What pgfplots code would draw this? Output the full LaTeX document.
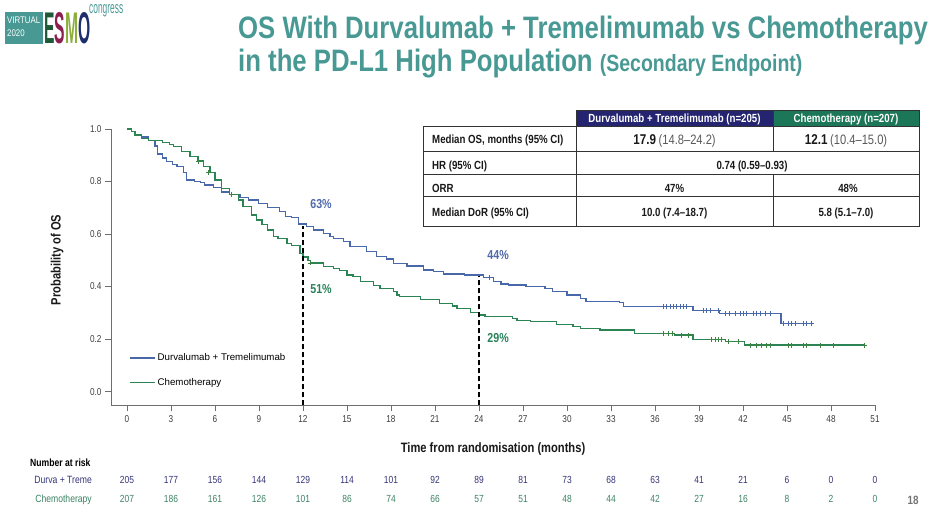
\documentclass[border=0pt]{standalone}
\usepackage{fontspec}
\setmainfont{Liberation Sans}
\newfontfamily\nf[FakeStretch=0.82]{Liberation Sans}
\newfontfamily\tf[FakeStretch=0.83]{Liberation Sans}
\usepackage{graphicx}
\usepackage{pgfplots}
\pgfplotsset{compat=1.18}
\definecolor{titleteal}{RGB}{72,152,148}
\definecolor{blueC}{RGB}{72,104,170}
\definecolor{greenC}{RGB}{42,132,84}
\definecolor{annBlue}{RGB}{80,105,170}
\definecolor{annGreen}{RGB}{40,130,90}
\definecolor{riskNavy}{RGB}{52,52,120}
\definecolor{riskGreen}{RGB}{60,130,100}
\definecolor{hdrNavy}{RGB}{36,36,112}
\definecolor{hdrGreen}{RGB}{28,118,88}
\definecolor{axisgray}{RGB}{110,110,110}
\definecolor{ticktext}{RGB}{60,60,60}
\definecolor{esmoE}{RGB}{30,90,55}
\definecolor{esmoS}{RGB}{140,30,80}
\definecolor{esmoM}{RGB}{140,175,60}
\definecolor{esmoO}{RGB}{30,45,110}
\begin{document}
\begin{tikzpicture}[x=1pt,y=1pt]
\path (0,0) rectangle (936,518);
% ---- logo
\fill[titleteal] (5,506) rectangle (43,474);
\node[anchor=base west, inner sep=0, text=white, font=\nf\fontsize{9.6}{10}\selectfont] at (7,494) {VIRTUAL};
\node[anchor=base west, inner sep=0, text=white, font=\nf\fontsize{9.6}{10}\selectfont] at (7,481) {2020};
\node[anchor=base west, inner sep=0] at (44,474) {\resizebox{46pt}{31pt}{\nf\bfseries\color{esmoE}E\color{esmoS}S\color{esmoM}M\color{esmoO}O}};
\node[anchor=base west, inner sep=0] at (89,504) {\resizebox{34pt}{9pt}{\nf\color{titleteal}congress}};
% ---- title
\node[anchor=base west, inner sep=0, text=titleteal, font=\tf\bfseries\fontsize{31}{31}\selectfont] at (238,479.5) {OS With Durvalumab + Tremelimumab vs Chemotherapy};
\node[anchor=base west, inner sep=0, text=titleteal, font=\tf\bfseries\fontsize{31}{31}\selectfont] at (238,446) {in the PD-L1 High Population {\fontsize{23.5}{24}\selectfont (Secondary Endpoint)}};
% ---- table
\fill[hdrNavy] (576,408) rectangle (773,391.3);
\fill[hdrGreen] (773,408) rectangle (919,391.3);
\draw[line width=0.6pt, black!80] (576,408) rectangle (919,391.3);
\draw[line width=0.6pt, black!80] (423,391.3) rectangle (919,291.3);
\draw[line width=0.6pt, black!80] (423,366.3) -- (919,366.3);
\draw[line width=0.6pt, black!80] (423,344) -- (919,344);
\draw[line width=0.6pt, black!80] (423,321.3) -- (919,321.3);
\draw[line width=0.6pt, black!80] (576,391.3) -- (576,291.3);
\draw[line width=0.6pt, black!80] (773,408) -- (773,366.3);
\draw[line width=0.6pt, black!80] (773,344) -- (773,291.3);
\begin{scope}[every node/.style={inner sep=0, font=\nf\bfseries\fontsize{11.8}{12}\selectfont, text=black!90}]
\node[text=white, anchor=base] at (674.5,395.5) {Durvalumab + Tremelimumab (n=205)};
\node[text=white, anchor=base] at (846,395.5) {Chemotherapy (n=207)};
\node[anchor=base west] at (432,374) {Median OS, months (95\% CI)};
\node[anchor=base west] at (432,348.5) {HR (95\% CI)};
\node[anchor=base west] at (432,325.5) {ORR};
\node[anchor=base west] at (432,301.5) {Median DoR (95\% CI)};
\node[anchor=base] at (674.5,373.5) {{\fontsize{14.2}{14}\selectfont 17.9} {\mdseries\fontsize{13.6}{14}\selectfont\color{black!65}(14.8–24.2)}};
\node[anchor=base] at (846,373.5) {{\fontsize{14.2}{14}\selectfont 12.1} {\mdseries\fontsize{13.6}{14}\selectfont\color{black!65}(10.4–15.0)}};
\node[anchor=base] at (752,348.5) {0.74 (0.59–0.93)};
\node[anchor=base] at (674.5,325.5) {47\%};
\node[anchor=base] at (848,325.5) {48\%};
\node[anchor=base] at (674.5,301.5) {10.0 (7.4–18.7)};
\node[anchor=base] at (846,301.5) {5.8 (5.1–7.0)};
\end{scope}
% ---- KM plot
\begin{axis}[
  at={(111pt,112.5pt)}, anchor=south west, scale only axis,
  width=764pt, height=276.5pt,
  xmin=-1.09, xmax=51, ymin=-0.053, ymax=1,
  axis x line*=bottom, axis y line*=left,
  axis line style={draw=axisgray, line width=0.8pt},
  tick align=outside, major tick length=6pt,
  tick style={axisgray, line width=0.8pt},
  xtick={0,3,6,9,12,15,18,21,24,27,30,33,36,39,42,45,48,51},
  ytick={0,0.2,0.4,0.6,0.8,1},
  /pgf/number format/assume math mode=true,
  ticklabel style={font=\nf\fontsize{10}{10}\selectfont, text=ticktext},
  yticklabel style={/pgf/number format/.cd, fixed, fixed zerofill, precision=1},
  xticklabel style={/pgf/number format/.cd, fixed, precision=0, /tikz/.cd, text height=7.2pt, text depth=0pt},
  xlabel={Time from randomisation (months)},
  ylabel={Probability of OS},
  label style={font=\nf\bfseries\fontsize{13.6}{14}\selectfont, text=black!90},
  xlabel style={at={(axis description cs:0.5,-0.156)}, anchor=center},
  ylabel style={at={(axis description cs:-0.0707,0.526)}, anchor=center},
  clip=false,
  legend style={at={(axis cs:0.15,0.152)}, anchor=north west, draw=none, fill=none,
    font=\fontsize{9.7}{10}\selectfont, row sep=12pt, inner sep=0pt,
    /tikz/every even column/.append style={column sep=8pt}},
  legend cell align=left,
  legend image code/.code={\draw[#1, line width=1.3pt] (0pt,0pt) -- (25pt,0pt);},
]
\addplot[blueC, line width=1.3pt, const plot] coordinates {
(0,1.0)(0.3,0.99)(0.6,0.98)(1.0,0.97)(1.45,0.955)(1.9,0.935)(2.1,0.905)(2.4,0.89)(2.7,0.876)(3.1,0.865)(3.4,0.856)(3.85,0.835)(4.05,0.806)(4.6,0.80)(5.0,0.795)(5.3,0.787)(5.9,0.776)(6.45,0.76)(7.0,0.75)(7.7,0.738)(8.3,0.73)(8.95,0.717)(9.6,0.70)(10.4,0.685)(10.8,0.668)(11.2,0.662)(11.7,0.638)(12.25,0.628)(12.7,0.615)(13.4,0.603)(13.85,0.59)(14.1,0.583)(14.75,0.571)(15.2,0.552)(16.35,0.533)(17.0,0.515)(17.7,0.505)(18.15,0.488)(19.1,0.478)(20.2,0.463)(20.9,0.456)(21.6,0.448)(23.0,0.444)(24.3,0.435)(25.0,0.42)(25.5,0.41)(26.0,0.406)(27.2,0.40)(28.5,0.393)(29.0,0.38)(30.0,0.368)(30.9,0.355)(31.3,0.342)(33.6,0.338)(33.85,0.324)(38.6,0.308)(40.4,0.298)(44.6,0.26)(46.7,0.26)};
\addlegendentry{Durvalumab + Tremelimumab}
\addplot[greenC, line width=1.3pt, const plot] coordinates {
(0,1.0)(0.3,0.99)(0.55,0.977)(1.0,0.965)(1.45,0.955)(2.4,0.948)(2.9,0.94)(3.15,0.933)(3.7,0.914)(4.3,0.895)(4.85,0.878)(5.2,0.856)(5.65,0.834)(6.0,0.806)(6.45,0.774)(7.0,0.75)(7.6,0.73)(7.9,0.705)(8.5,0.672)(8.85,0.653)(9.2,0.635)(9.6,0.615)(10.0,0.59)(10.3,0.583)(10.9,0.565)(11.2,0.555)(11.8,0.526)(12.0,0.513)(12.35,0.50)(12.5,0.49)(13.4,0.475)(14.1,0.469)(14.5,0.46)(15.0,0.444)(15.4,0.437)(15.9,0.418)(16.8,0.405)(17.25,0.393)(18.15,0.381)(18.4,0.368)(18.6,0.362)(20.0,0.35)(21.3,0.336)(22.2,0.326)(22.5,0.317)(23.4,0.30)(24.05,0.292)(24.4,0.285)(26.3,0.279)(26.6,0.272)(27.5,0.266)(29.3,0.255)(30.4,0.248)(30.9,0.24)(32.25,0.234)(34.6,0.222)(37.35,0.215)(38.6,0.199)(40.8,0.19)(42.1,0.177)(50.3,0.177)};
\addlegendentry{Chemotherapy}
\addplot[blueC, only marks, mark=+, mark size=2.5pt, line width=0.8pt, forget plot] coordinates {
(24.7,0.435)(36.57,0.324)(36.8,0.324)(37.02,0.324)(37.25,0.324)(37.48,0.324)(37.7,0.324)(37.93,0.324)(38.16,0.324)(39.3,0.308)(39.52,0.308)(39.75,0.308)(40.3,0.308)(40.77,0.298)(41.1,0.298)(41.45,0.298)(41.8,0.298)(42.0,0.298)(42.25,0.298)(42.7,0.298)(42.93,0.298)(43.16,0.298)(43.5,0.298)(43.84,0.298)(44.75,0.26)(45.1,0.26)(45.3,0.26)(45.55,0.26)(46.1,0.26)(46.35,0.26)(46.68,0.26)};
\addplot[greenC!80!olive, only marks, mark=+, mark size=2.5pt, line width=0.8pt, forget plot] coordinates {
(4.85,0.878)(5.55,0.834)(7.1,0.75)(12.5,0.49)(36.55,0.222)(36.9,0.222)(37.2,0.222)(37.8,0.215)(38.27,0.215)(39.87,0.199)(40.1,0.199)(40.32,0.199)(40.55,0.199)(41.0,0.19)(41.7,0.19)(42.48,0.177)(42.93,0.177)(43.27,0.177)(43.6,0.177)(43.84,0.177)(45.1,0.177)(45.3,0.177)(46.1,0.177)(46.35,0.177)(47.27,0.177)(48.16,0.177)(50.3,0.177)};
\addplot[black, dash pattern=on 5pt off 3pt, line width=1.2pt, forget plot] coordinates {(12,-0.053)(12,0.63)};
\addplot[black, dash pattern=on 5pt off 3pt, line width=1.2pt, forget plot] coordinates {(24,-0.053)(24,0.44)};
\node[text=annBlue, font=\nf\bfseries\fontsize{13}{13}\selectfont] at (axis cs:13.23,0.714) {63\%};
\node[text=annGreen, font=\nf\bfseries\fontsize{13}{13}\selectfont] at (axis cs:13.23,0.39) {51\%};
\node[text=annBlue, font=\nf\bfseries\fontsize{13}{13}\selectfont] at (axis cs:25.3,0.52) {44\%};
\node[text=annGreen, font=\nf\bfseries\fontsize{13}{13}\selectfont] at (axis cs:25.3,0.204) {29\%};
\end{axis}
% ---- number at risk
\node[anchor=base west, inner sep=0, font=\nf\bfseries\fontsize{10.5}{11}\selectfont] at (30,51.5) {Number at risk};
\node[anchor=base east, inner sep=0, text=riskNavy, font=\nf\fontsize{10.5}{11}\selectfont] at (92,34) {Durva + Treme};
\node[anchor=base east, inner sep=0, text=riskGreen, font=\nf\fontsize{10.5}{11}\selectfont] at (92,15) {Chemotherapy};
\foreach \v [count=\i from 0] in {205,177,156,144,129,114,101,92,89,81,73,68,63,41,21,6,0,0}
  \node[anchor=base, inner sep=0, text=riskNavy, font=\nf\fontsize{10.3}{11}\selectfont] at (127+44*\i,34) {\v};
\foreach \v [count=\i from 0] in {207,186,161,126,101,86,74,66,57,51,48,44,42,27,16,8,2,0}
  \node[anchor=base, inner sep=0, text=riskGreen, font=\nf\fontsize{10.3}{11}\selectfont] at (127+44*\i,15) {\v};
\node[anchor=base, inner sep=0, text=black!55, font=\nf\bfseries\fontsize{12}{12}\selectfont] at (913,13.5) {18};
\end{tikzpicture}
\end{document}
